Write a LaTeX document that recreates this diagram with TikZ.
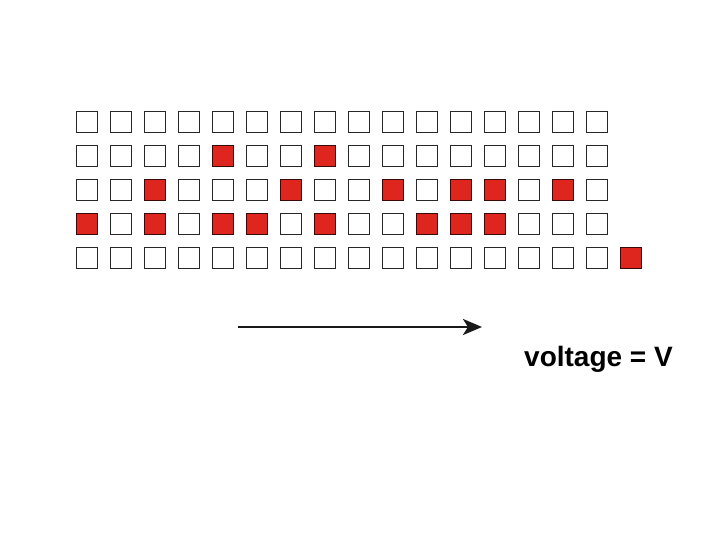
\documentclass[tikz,border=0pt]{standalone}
\usepackage{fontspec}
\setmainfont{Liberation Sans}
\usetikzlibrary{arrows.meta}
\definecolor{cellred}{RGB}{222,38,30}
\definecolor{celledge}{RGB}{40,40,40}
\begin{document}
\begin{tikzpicture}[x=1pt,y=-1pt,
  cell/.style={draw=celledge,line width=1.8pt,minimum size=21pt,inner sep=0pt,fill=white},
  oncell/.style={cell,fill=cellred,draw=black!75!cellred},
  lbl/.style={font=\bfseries\fontsize{28}{30}\selectfont,inner sep=0pt}]
\useasboundingbox (0,0) rectangle (720,540);
\foreach \r/\on in {1/{},2/{5,8},3/{3,7,10,12,13,15},4/{1,3,5,6,8,11,12,13},5/{}}{
  \foreach \c in {1,...,16}{
    \def\sty{cell}
    \foreach \k in \on {\ifnum\k=\c\relax\global\def\sty{oncell}\fi}
    \node[\sty] (c\r-\c) at ({87+34*(\c-1)},{122+34*(\r-1)}) {};
    \global\def\sty{cell}
  }
}
\node[oncell] (extra) at (631,258) {};
\coordinate (a0) at (238,327);
\coordinate (a1) at (482,327);
\draw[line width=2.8pt,color=black!90,-{Stealth[length=19pt,width=16pt,inset=5pt]}] (a0) -- (a1);
\node[lbl,anchor=base west] (v) at (524,366) {voltage = V};
\end{tikzpicture}
\end{document}
